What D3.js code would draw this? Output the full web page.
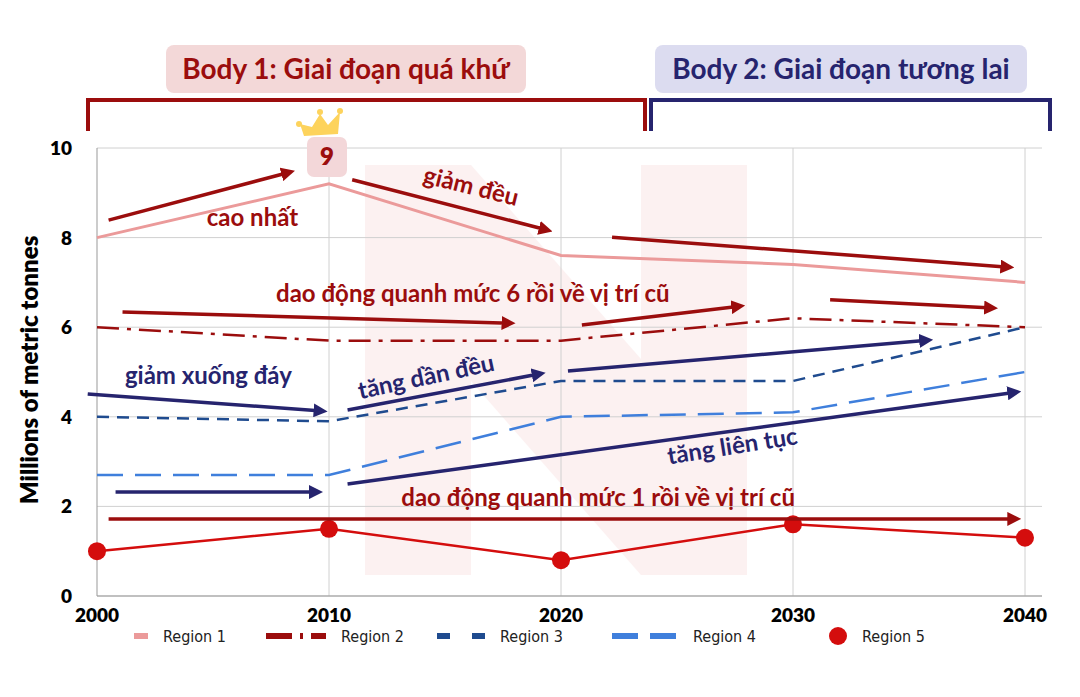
<!DOCTYPE html>
<html><head><meta charset="utf-8">
<script src="https://cdn.jsdelivr.net/npm/d3@7"></script>
<style>body{margin:0;background:#fff}svg{display:block}</style>
</head><body>
<svg id="c" width="1080" height="697"></svg>
<script>
// dữ liệu
const years = [2000, 2010, 2020, 2030, 2040];
const region1 = [8.0, 9.2, 7.6, 7.4, 7.0];
const region2 = [6.0, 5.7, 5.7, 6.2, 6.0];
const region3 = [4.0, 3.9, 4.8, 4.8, 6.0];
const region4 = [2.7, 2.7, 4.0, 4.1, 5.0];
const region5 = [1.0, 1.5, 0.8, 1.6, 1.3];
const yTicks = [0, 2, 4, 6, 8, 10];

// mũi tên chú thích (x năm, y giá trị)
const redArrows = [
  [2000.5, 8.39, 2008.3, 9.46], [2011, 9.29, 2019.4, 8.17], [2022.2, 8.01, 2039.3, 7.34],
  [2001.1, 6.34, 2017.8, 6.09], [2020.9, 6.05, 2027.7, 6.47], [2031.6, 6.61, 2038.6, 6.43],
  [2000.5, 1.72, 2039.6, 1.72]
];
const navyArrows = [
  [1999.6, 4.51, 2009.7, 4.13], [2010.8, 4.15, 2019.1, 4.96], [2020.3, 5.02, 2035.8, 5.71],
  [2010.8, 2.5, 2039.6, 4.55], [2000.8, 2.32, 2009.5, 2.32]
];
const notes = [
  {t: 'cao nhất', x: 2006.7, y: 8.4, r: 0, c: '#9b0d0d'},
  {t: 'giảm đều', x: 2016.1, y: 9.1, r: 14, c: '#9b0d0d'},
  {t: 'dao động quanh mức 6 rồi về vị trí cũ', x: 2016.2, y: 6.7, r: 0, c: '#9b0d0d'},
  {t: 'giảm xuống đáy', x: 2004.8, y: 4.87, r: 0, c: '#26246e'},
  {t: 'tăng dần đều', x: 2014.2, y: 4.85, r: -12, c: '#26246e'},
  {t: 'tăng liên tục', x: 2027.4, y: 3.3, r: -9, c: '#26246e'},
  {t: 'dao động quanh mức 1 rồi về vị trí cũ', x: 2021.6, y: 2.14, r: 0, c: '#9b0d0d'}
];

const svg = d3.select('#c');
const x = d3.scaleLinear().domain([2000, 2040]).range([97, 1025]);
const y = d3.scaleLinear().domain([0, 10]).range([596, 148]);
const font = 'Lato, "Open Sans", sans-serif';

// nền chữ N mờ
const bg = svg.append('g').attr('fill', '#e04848').attr('opacity', 0.07);
bg.append('rect').attr('x', 365).attr('y', 165).attr('width', 106).attr('height', 410);
bg.append('rect').attr('x', 641).attr('y', 165).attr('width', 106).attr('height', 410);
bg.append('polygon').attr('points', '365,165 471,165 747,480 747,575 641,575 365,260');

// lưới
svg.append('g').selectAll('line').data(yTicks).join('line')
  .attr('x1', x(2000)).attr('x2', 1042).attr('y1', d => y(d)).attr('y2', d => y(d))
  .attr('stroke', '#d0d0d0');
svg.append('g').selectAll('line').data(years.slice(1)).join('line')
  .attr('x1', d => x(d)).attr('x2', d => x(d)).attr('y1', y(10)).attr('y2', y(0))
  .attr('stroke', '#d0d0d0');
svg.append('line').attr('x1', x(2000)).attr('x2', x(2000)).attr('y1', y(10)).attr('y2', y(0)).attr('stroke', '#999');
svg.append('line').attr('x1', x(2000)).attr('x2', 1042).attr('y1', y(0)).attr('y2', y(0)).attr('stroke', '#999');

// nhãn trục
svg.append('g').selectAll('text').data(yTicks).join('text')
  .attr('x', 72).attr('y', d => y(d) + 7).attr('text-anchor', 'end')
  .attr('font-family', font).attr('font-weight', 800).attr('font-size', 19).text(d => d);
svg.append('g').selectAll('text').data(years).join('text')
  .attr('x', d => x(d)).attr('y', 622).attr('text-anchor', 'middle')
  .attr('font-family', font).attr('font-weight', 800).attr('font-size', 19).text(d => d);
svg.append('text').attr('transform', 'translate(38,370) rotate(-90)').attr('text-anchor', 'middle')
  .attr('font-family', font).attr('font-weight', 800).attr('font-size', 24).text('Millions of metric tonnes');

// đường
const line = d3.line().x((d, i) => x(years[i])).y(d => y(d));
const series = [
  {v: region1, c: '#eb9a9a', dash: null, w: 3},
  {v: region2, c: '#9b0d0d', dash: '22,8,4,8', w: 2.5},
  {v: region3, c: '#1f4b8f', dash: '12,8', w: 2.5},
  {v: region4, c: '#3f7fdc', dash: '26,12', w: 2.5},
  {v: region5, c: '#d40d0d', dash: null, w: 2.5}
];
series.forEach(s => svg.append('path').attr('d', line(s.v)).attr('fill', 'none')
  .attr('stroke', s.c).attr('stroke-width', s.w).attr('stroke-dasharray', s.dash));
svg.append('g').selectAll('circle').data(region5).join('circle')
  .attr('cx', (d, i) => x(years[i])).attr('cy', d => y(d)).attr('r', 9).attr('fill', '#d40d0d');

// mũi tên
const defs = svg.append('defs');
[['r', '#9b0d0d'], ['n', '#26246e']].forEach(([id, c]) => defs.append('marker')
  .attr('id', 'a' + id).attr('viewBox', '0 0 10 10').attr('refX', 6).attr('refY', 5)
  .attr('markerWidth', 4).attr('markerHeight', 4).attr('orient', 'auto')
  .append('path').attr('d', 'M0,0 L10,5 L0,10 z').attr('fill', c));
function arrows(data, c, id) {
  svg.append('g').selectAll('line').data(data).join('line')
    .attr('x1', d => x(d[0])).attr('y1', d => y(d[1])).attr('x2', d => x(d[2])).attr('y2', d => y(d[3]))
    .attr('stroke', c).attr('stroke-width', 3.5).attr('marker-end', `url(#a${id})`);
}
arrows(redArrows, '#9b0d0d', 'r');
arrows(navyArrows, '#26246e', 'n');

svg.append('g').selectAll('text').data(notes).join('text')
  .attr('transform', d => `translate(${x(d.x)},${y(d.y)}) rotate(${d.r})`)
  .attr('text-anchor', 'middle').attr('dominant-baseline', 'middle')
  .attr('font-family', font).attr('font-weight', 700).attr('font-size', 24)
  .attr('fill', d => d.c).text(d => d.t);

// vương miện + số 9
svg.append('rect').attr('x', x(2010) - 22).attr('y', 137).attr('width', 40).attr('height', 40)
  .attr('rx', 7).attr('fill', '#f3d7d9');
svg.append('text').attr('x', x(2010) - 2).attr('y', 165).attr('text-anchor', 'middle')
  .attr('font-family', font).attr('font-weight', 800).attr('font-size', 24).attr('fill', '#9b0d0d').text(9);
svg.append('polygon').attr('points', '300,124 312,127 320,114 328,125 340,112 338,134 304,136')
  .attr('fill', '#fdd35c');
[[299, 124], [320, 112], [340, 111]].forEach(p => svg.append('circle').attr('cx', p[0]).attr('cy', p[1]).attr('r', 3).attr('fill', '#fdd35c'));

// tiêu đề
const heads = [
  {t: 'Body 1: Giai đoạn quá khứ', x0: 166, x1: 526, bg: '#f3d8d8', c: '#9b0d0d', b0: 88, b1: 645},
  {t: 'Body 2: Giai đoạn tương lai', x0: 655, x1: 1027, bg: '#dcdcf0', c: '#26246e', b0: 651, b1: 1050}
];
heads.forEach(h => {
  svg.append('rect').attr('x', h.x0).attr('y', 45).attr('width', h.x1 - h.x0).attr('height', 48)
    .attr('rx', 8).attr('fill', h.bg);
  svg.append('text').attr('x', (h.x0 + h.x1) / 2).attr('y', 79).attr('text-anchor', 'middle')
    .attr('font-family', font).attr('font-weight', 700).attr('font-size', 28).attr('fill', h.c).text(h.t);
  svg.append('path').attr('d', `M${h.b0},131 V100 H${h.b1} V131`).attr('fill', 'none')
    .attr('stroke', h.c).attr('stroke-width', 4);
});

// chú giải
const legend = ['Region 1', 'Region 2', 'Region 3', 'Region 4', 'Region 5'];
const lx = [134, 266, 437, 612, 829];
legend.forEach((n, i) => {
  const g = svg.append('g').attr('transform', `translate(${lx[i]},636)`);
  const s = series[i];
  let tx;
  if (i === 4) { g.append('circle').attr('cx', 9).attr('r', 9).attr('fill', s.c); tx = 33; }
  else {
    const w = [14, 60, 48, 66][i];
    g.append('line').attr('x1', 0).attr('x2', w).attr('stroke', s.c).attr('stroke-width', 6)
      .attr('stroke-dasharray', [null, '26,8,3,8', '13,22', '26,12'][i]);
    tx = w + 15;
  }
  g.append('text').attr('x', tx).attr('y', 6).attr('font-family', '"DejaVu Sans Condensed", "DejaVu Sans", sans-serif')
    .attr('font-size', 16).attr('fill', '#222').text(n);
});
</script>
</body></html>
